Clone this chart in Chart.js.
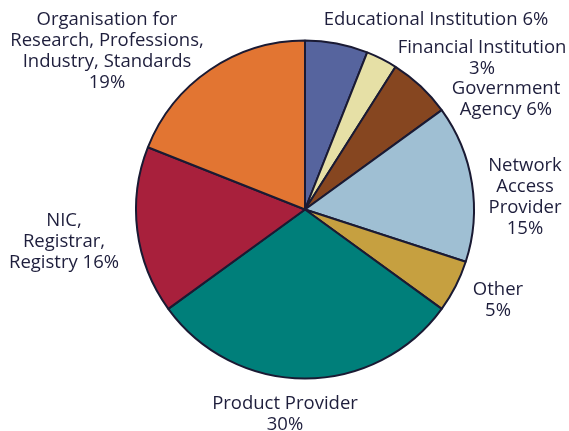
<!DOCTYPE html>
<html>
<head>
<meta charset="utf-8">
<script src="https://cdn.jsdelivr.net/npm/chart.js@4/dist/chart.umd.min.js"></script>
<style>
  html, body { margin: 0; padding: 0; background: #fff; }
  #wrap { width: 569px; height: 431px; }
</style>
</head>
<body>
<div id="wrap"><canvas id="pie"></canvas></div>
<script>
// data
const categories = [
  ['Educational Institution 6%'],
  ['Financial Institution', '3%'],
  ['Government', 'Agency 6%'],
  ['Network', 'Access', 'Provider', '15%'],
  ['Other', '5%'],
  ['Product Provider', '30%'],
  ['NIC,', 'Registrar,', 'Registry 16%'],
  ['Organisation for', 'Research, Professions,', 'Industry, Standards', '19%']
]
const shares = [6, 3, 6, 15, 5, 30, 16, 19]
const colours = ['#56649e', '#e6e0a6', '#864620', '#9fbfd3', '#c6a040', '#007f7a', '#a8203c', '#e27532']

// where each label block sits (centre x, first line y)
const labelSpots = [
  [436, 20], [482, 48], [506, 89], [525, 166], [498, 290], [285, 404], [64, 221], [107, 20]
]

const outsideLabels = {
  id: 'outsideLabels',
  afterDraw(chart) {
    const ctx = chart.ctx
    ctx.save()
    ctx.font = '18.5px "Open Sans", sans-serif'
    ctx.fillStyle = '#1e1e3c'
    ctx.textAlign = 'center'
    ctx.textBaseline = 'middle'
    categories.forEach((lines, i) => {
      const [x, y] = labelSpots[i]
      lines.forEach((t, k) => ctx.fillText(t, x, y + k * 21))
    })
    ctx.restore()
  }
}

new Chart(document.getElementById('pie'), {
  type: 'pie',
  data: {
    labels: categories.map(l => l.join(' ')),
    datasets: [{
      data: shares,
      backgroundColor: colours,
      borderColor: '#1a1a33',
      borderWidth: 2
    }]
  },
  options: {
    responsive: true,
    maintainAspectRatio: false,
    animation: false,
    layout: { padding: { top: 39.5, bottom: 51.5, left: 135, right: 94 } },
    plugins: {
      legend: { display: false },
      tooltip: { enabled: false }
    }
  },
  plugins: [outsideLabels]
})
</script>
</body>
</html>
